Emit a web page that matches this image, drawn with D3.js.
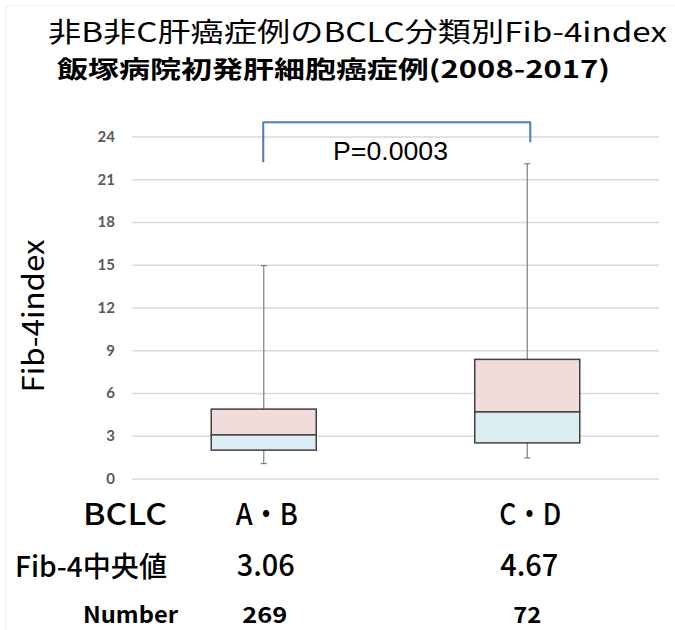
<!DOCTYPE html>
<html>
<head>
<meta charset="utf-8">
<script src="https://cdn.jsdelivr.net/npm/d3@7"></script>
<style>
  html, body { margin: 0; padding: 0; background: #fff; }
  svg { display: block; }
</style>
</head>
<body>
<div id="chart"></div>
<script>
// BCLC groups and their Fib-4 index box-plot statistics
const categories   = ["A・B", "C・D"];
const whiskerLow   = [1.05, 1.45];
const q1Values     = [1.99, 2.50];
const medianValues = [3.06, 4.67];
const q3Values     = [4.87, 8.36];
const whiskerHigh  = [14.94, 22.09];
const caseCounts   = [269, 72];
const yTicks       = [0, 3, 6, 9, 12, 15, 18, 21, 24];

// significance bracket (y values on the Fib-4 scale)
const bracketTop   = 25.0;
const bracketEnds  = [22.2, 23.6];
const pLabel       = "P=0.0003";

const W = 675, H = 630;
const JP = "'Noto Sans CJK JP', 'Noto Sans', sans-serif";

const svg = d3.select("#chart").append("svg")
  .attr("width", W).attr("height", H);

// faint outer frame
svg.append("rect")
  .attr("x", 5.5).attr("y", 5.5).attr("width", W - 4).attr("height", H - 4)
  .attr("fill", "none").attr("stroke", "#efefef").attr("stroke-width", 1);

const x = d3.scaleBand().domain(categories).range([132, 659]).paddingInner(0);
const y = d3.scaleLinear().domain([0, 24]).range([478.5, 136.5]);
const cx = c => x(c) + x.bandwidth() / 2;
const boxW = 105;

// titles
svg.append("text")
  .attr("x", 48).attr("y", 42)
  .attr("textLength", 619).attr("lengthAdjust", "spacingAndGlyphs")
  .style("font-family", JP).style("font-size", "27px").style("font-weight", 400)
  .attr("fill", "#000")
  .text("非B非C肝癌症例のBCLC分類別Fib-4index");

svg.append("text")
  .attr("x", 57).attr("y", 78)
  .attr("textLength", 553).attr("lengthAdjust", "spacingAndGlyphs")
  .style("font-family", JP).style("font-size", "24px").style("font-weight", 700)
  .attr("fill", "#000")
  .text("飯塚病院初発肝細胞癌症例(2008-2017)");

// gridlines + tick labels
const yAxis = d3.axisLeft(y).tickValues(yTicks).tickSize(-(659 - 132)).tickPadding(17);
const gAxis = svg.append("g").attr("transform", "translate(132,0)").call(yAxis);
gAxis.select(".domain").remove();
gAxis.selectAll(".tick line").attr("stroke", "#d9d9d9").attr("stroke-width", 1.3);
gAxis.selectAll(".tick text")
  .style("font-family", "Lato, 'Open Sans', sans-serif")
  .style("font-size", "15px").style("font-weight", 700)
  .attr("fill", "#595959");

// y-axis title
svg.append("text")
  .attr("transform", "translate(31,316) rotate(-90)")
  .attr("text-anchor", "middle").attr("dominant-baseline", "central")
  .attr("textLength", 153).attr("lengthAdjust", "spacingAndGlyphs")
  .style("font-family", JP).style("font-size", "30px").style("font-weight", 400)
  .attr("fill", "#000")
  .text("Fib-4index");

// box plots
const groups = svg.append("g").selectAll("g").data(categories).join("g");

groups.each(function (c, i) {
  const g = d3.select(this);
  const xc = cx(c);
  // whiskers
  g.append("line")
    .attr("x1", xc).attr("x2", xc)
    .attr("y1", y(whiskerHigh[i])).attr("y2", y(q3Values[i]))
    .attr("stroke", "#7f7f7f").attr("stroke-width", 1.2);
  g.append("line")
    .attr("x1", xc).attr("x2", xc)
    .attr("y1", y(q1Values[i])).attr("y2", y(whiskerLow[i]))
    .attr("stroke", "#7f7f7f").attr("stroke-width", 1.2);
  [whiskerHigh[i], whiskerLow[i]].forEach(v => {
    g.append("line")
      .attr("x1", xc - 3).attr("x2", xc + 3)
      .attr("y1", y(v)).attr("y2", y(v))
      .attr("stroke", "#7f7f7f").attr("stroke-width", 1.2);
  });
  // upper box (median to Q3)
  g.append("rect")
    .attr("x", xc - boxW / 2).attr("width", boxW)
    .attr("y", y(q3Values[i])).attr("height", y(medianValues[i]) - y(q3Values[i]))
    .attr("fill", "#f2dcdb").attr("stroke", "#404040").attr("stroke-width", 1.5);
  // lower box (Q1 to median)
  g.append("rect")
    .attr("x", xc - boxW / 2).attr("width", boxW)
    .attr("y", y(medianValues[i])).attr("height", y(q1Values[i]) - y(medianValues[i]))
    .attr("fill", "#dbeef4").attr("stroke", "#404040").attr("stroke-width", 1.5);
});

// significance bracket
const bx0 = cx(categories[0]) - 0.5, bx1 = cx(categories[1]) + 3;
const bracket = d3.line().curve(d3.curveLinear);
svg.append("path")
  .attr("d", bracket([
    [bx0, y(bracketEnds[0])], [bx0, y(bracketTop)],
    [bx1, y(bracketTop)], [bx1, y(bracketEnds[1])]
  ]))
  .attr("fill", "none").attr("stroke", "#4a7ebb").attr("stroke-width", 2)
  .attr("stroke-linejoin", "round");

svg.append("text")
  .attr("x", 333).attr("y", 160)
  .attr("textLength", 115).attr("lengthAdjust", "spacingAndGlyphs")
  .style("font-family", "'Liberation Sans', Arial, sans-serif")
  .style("font-size", "26px").style("font-weight", 400)
  .attr("fill", "#000")
  .text(pLabel);

// summary table under the plot
const rowLabel = (txt, x0, yb, len, size, weight) =>
  svg.append("text")
    .attr("x", x0).attr("y", yb)
    .attr("textLength", len).attr("lengthAdjust", "spacingAndGlyphs")
    .style("font-family", JP).style("font-size", size + "px").style("font-weight", weight)
    .attr("fill", "#000").text(txt);

rowLabel("BCLC", 83, 525, 84, 30, 500);
rowLabel("Fib-4中央値", 15, 577, 152, 28, 500);
rowLabel("Number", 83, 623, 95, 22, 700);

const cell = (txt, xc, yb, len, size, weight) =>
  svg.append("text")
    .attr("x", xc).attr("y", yb).attr("text-anchor", "middle")
    .attr("textLength", len).attr("lengthAdjust", "spacingAndGlyphs")
    .style("font-family", JP).style("font-size", size + "px").style("font-weight", weight)
    .attr("fill", "#000").text(txt);

categories.forEach((c, i) => {
  const xc = cx(c);
  cell(c, xc + 3, 525, 62, 30, 500);
  cell(medianValues[i].toFixed(2), xc + 2, 576, 58, 30, 500);
  cell(String(caseCounts[i]), xc + 1 - i * 1, 623, i === 0 ? 45 : 28, 22, 700);
});
</script>
</body>
</html>
